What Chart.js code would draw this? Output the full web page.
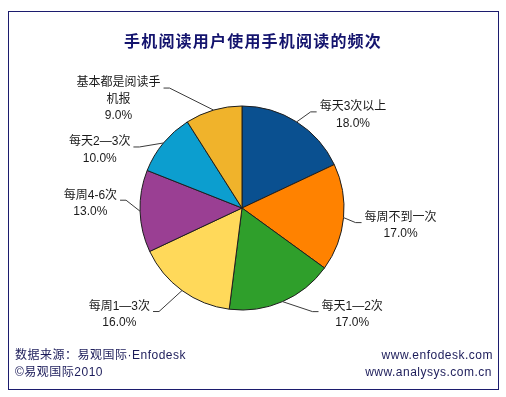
<!DOCTYPE html>
<html>
<head>
<meta charset="utf-8">
<script src="https://cdn.jsdelivr.net/npm/chart.js@4.4.1/dist/chart.umd.min.js"></script>
<style>
  body { margin: 0; background: #fff; }
  #wrap { position: relative; width: 506px; height: 397px; }
  #frame { position: absolute; left: 8px; top: 11px; width: 489px; height: 377px; border: 1px solid #1c1c6e; }
  #chart { position: absolute; left: 0; top: 0; }
  .txt { position: absolute; font-family: "Liberation Sans", "Noto Sans CJK SC", sans-serif; font-size: 12px; line-height: 16px; letter-spacing: 0.5px; color: #1c1c5a; white-space: nowrap; }
  #title { position: absolute; left: 0; width: 506px; top: 30px; text-align: center; font-family: "Noto Sans CJK SC", sans-serif; font-weight: bold; font-size: 16px; line-height: 20px; letter-spacing: 1.2px; color: #14146e; }
</style>
</head>
<body>
<div id="wrap">
  <div id="frame"></div>
  <canvas id="chart" width="506" height="397"></canvas>
  <div id="title">手机阅读用户使用手机阅读的频次</div>
  <div class="txt" style="left:15px; top:347px;">数据来源：易观国际·Enfodesk</div>
  <div class="txt" style="left:15px; top:364px;">©易观国际2010</div>
  <div class="txt" style="right:13px; top:347px; text-align:right;">www.enfodesk.com</div>
  <div class="txt" style="right:14px; top:364px; text-align:right;">www.analysys.com.cn</div>
</div>
<script>
const categorias = ['每天3次以上', '每周不到一次', '每天1—2次', '每周1—3次', '每周4-6次', '每天2—3次', '基本都是阅读手机报'];
const percentuais = [18.0, 17.0, 17.0, 16.0, 13.0, 10.0, 9.0];
const cores = ['#0a5090', '#ff8200', '#2f9f2b', '#ffd95a', '#9a3f93', '#0c9ecf', '#f0b32b'];

// linhas de texto de cada rótulo e deslocamento do cotovelo da linha de chamada
const linhasRotulo = [['每天3次以上'], ['每周不到一次'], ['每天1—2次'], ['每周1—3次'], ['每周4-6次'], ['每天2—3次'], ['基本都是阅读手', '机报']];
const cotovelos = [[14, -10], [12, 5], [30, 10], [-23, 21], [-14, -11], [-24, 4], [-44, -22]];

const rotulosPlugin = {
    id: 'rotulos',
    afterDatasetsDraw(chart) {
        const ctx = chart.ctx;
        const meta = chart.getDatasetMeta(0);
        ctx.save();
        ctx.font = '12px "Liberation Sans", "Noto Sans CJK SC", sans-serif';
        ctx.textBaseline = 'middle';
        meta.data.forEach((arc, i) => {
            const p = arc.getProps(['x', 'y', 'startAngle', 'endAngle', 'outerRadius'], true);
            const mid = (p.startAngle + p.endAngle) / 2;
            const ax = p.x + Math.cos(mid) * p.outerRadius;
            const ay = p.y + Math.sin(mid) * p.outerRadius;
            const ex = ax + cotovelos[i][0];
            const ey = ay + cotovelos[i][1];
            const lado = cotovelos[i][0] >= 0 ? 1 : -1;

            ctx.strokeStyle = '#3a3a3a';
            ctx.lineWidth = 1;
            ctx.beginPath();
            ctx.moveTo(ax, ay);
            ctx.lineTo(ex, ey);
            ctx.lineTo(ex + lado * 6, ey);
            ctx.stroke();

            const linhas = linhasRotulo[i].concat([percentuais[i].toFixed(1) + '%']);
            const larg = Math.max(...linhas.map(l => ctx.measureText(l).width));
            const borda = ex + lado * 9;
            const cx = lado > 0 ? borda + larg / 2 : borda - larg / 2;
            ctx.fillStyle = '#1a1a1a';
            ctx.textAlign = 'center';
            linhas.forEach((l, k) => {
                ctx.fillText(l, cx, ey - 5 + k * 16.5);
            });
        });
        ctx.restore();
    }
};

new Chart(document.getElementById('chart').getContext('2d'), {
    type: 'pie',
    data: {
        labels: categorias,
        datasets: [{
            data: percentuais,
            backgroundColor: cores,
            borderColor: '#1e1e1e',
            borderWidth: 1
        }]
    },
    options: {
        responsive: false,
        animation: false,
        layout: {
            padding: { left: 139.5, top: 105.5, right: 161.5, bottom: 86.5 }
        },
        plugins: {
            legend: { display: false },
            tooltip: { enabled: false }
        }
    },
    plugins: [rotulosPlugin]
});
</script>
</body>
</html>
